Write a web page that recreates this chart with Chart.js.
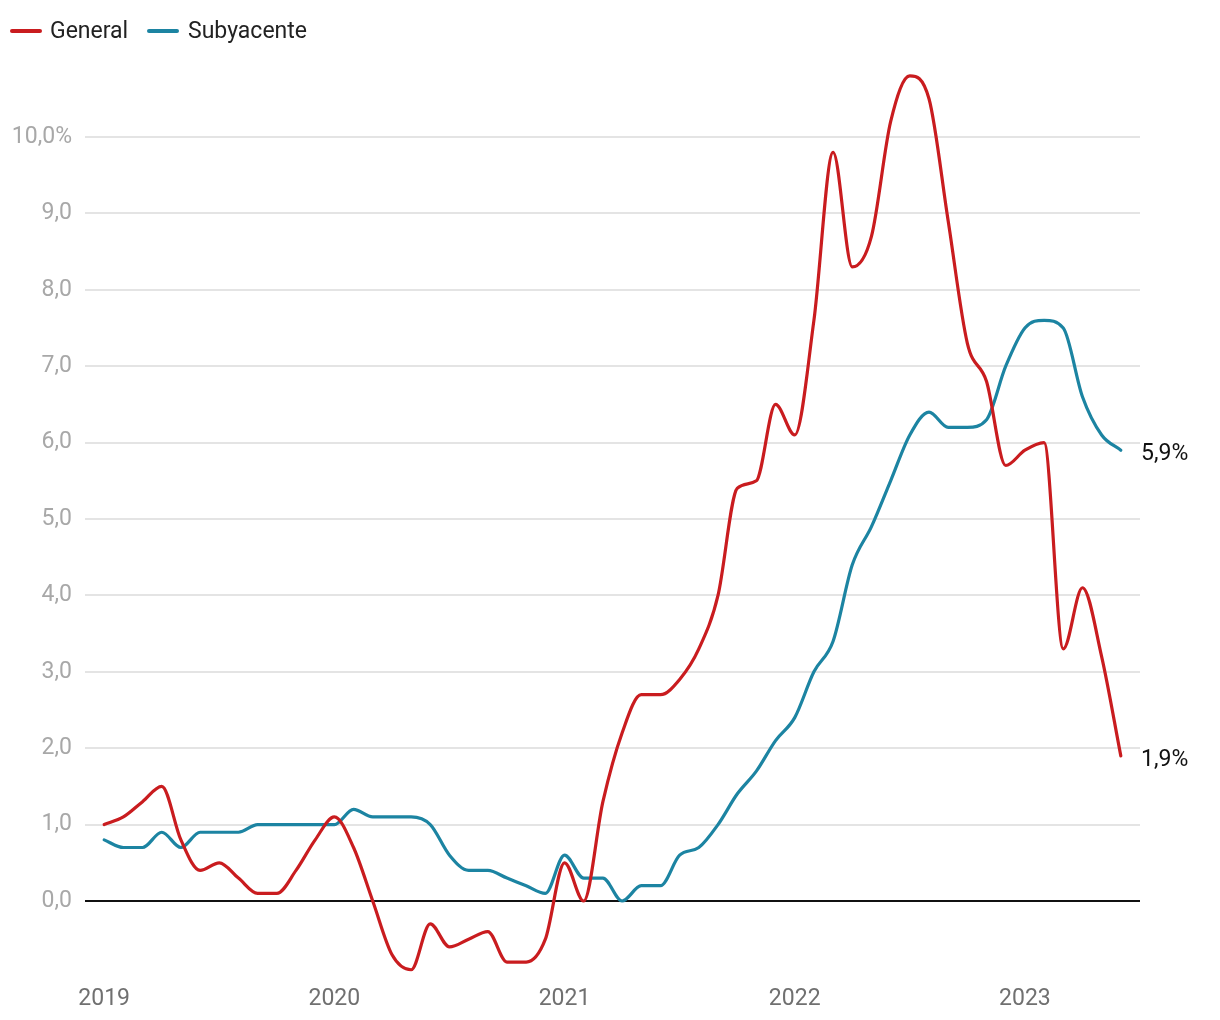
<!DOCTYPE html>
<html><head><meta charset="utf-8">
<script src="https://cdn.jsdelivr.net/npm/chart.js@4"></script>
<style>html,body{margin:0;padding:0;background:#fff}#wrap{width:1220px;height:1020px;position:relative}</style>
</head><body><div id="wrap"><canvas id="c" width="1220" height="1020"></canvas></div>
<script>
const seriesNames = ["General", "Subyacente"];
const general = [1.0,1.1,1.3,1.5,0.8,0.4,0.5,0.3,0.1,0.1,0.4,0.8,
  1.1,0.7,0.0,-0.7,-0.9,-0.3,-0.6,-0.5,-0.4,-0.8,-0.8,-0.5,
  0.5,0.0,1.3,2.2,2.7,2.7,2.9,3.3,4.0,5.4,5.5,6.5,
  6.1,7.6,9.8,8.3,8.7,10.2,10.8,10.5,8.9,7.3,6.8,5.7,
  5.9,6.0,3.3,4.1,3.2,1.9];
const subyacente = [0.8,0.7,0.7,0.9,0.7,0.9,0.9,0.9,1.0,1.0,1.0,1.0,
  1.0,1.2,1.1,1.1,1.1,1.0,0.6,0.4,0.4,0.3,0.2,0.1,
  0.6,0.3,0.3,0.0,0.2,0.2,0.6,0.7,1.0,1.4,1.7,2.1,
  2.4,3.0,3.4,4.4,4.9,5.5,6.1,6.4,6.2,6.2,6.3,7.0,
  7.5,7.6,7.5,6.6,6.1,5.9];
const yearLabels = ["2019","2020","2021","2022","2023"];
const endLabels = ["1,9%","5,9%"];
const colors = ["#c91c1f","#1c84a2"];
const FONT = 'Roboto';
const FS = 23;

const toXY = arr => arr.map((v,i)=>({x:i,y:v}));

const extrasPlugin = {
  id:'extras',
  afterDatasetsDraw(chart){
    const ctx = chart.ctx;
    ctx.save();
    ctx.font = FS + 'px ' + FONT;
    ctx.fillStyle = '#111';
    ctx.textBaseline = 'middle';
    ctx.textAlign = 'left';
    [0,1].forEach(di=>{
      const meta = chart.getDatasetMeta(di);
      const pt = meta.data[meta.data.length-1];
      ctx.fillText(endLabels[di], 1141, pt.y + 4);
    });
    // legend
    const items = [{x:12, tx:50}, {x:149, tx:188}];
    items.forEach((it,i)=>{
      ctx.strokeStyle = colors[i];
      ctx.lineWidth = 4;
      ctx.lineCap = 'round';
      ctx.beginPath(); ctx.moveTo(it.x, 31); ctx.lineTo(it.x+28, 31); ctx.stroke();
      ctx.fillStyle = '#222';
      ctx.fillText(seriesNames[i], it.tx, 32);
    });
    ctx.restore();
  }
};

new Chart(document.getElementById('c'), {
  type:'line',
  data:{datasets:[
    {label:seriesNames[0], data:toXY(general), borderColor:colors[0], backgroundColor:colors[0], borderWidth:3.2, pointRadius:0, cubicInterpolationMode:'monotone', borderCapStyle:'round'},
    {label:seriesNames[1], data:toXY(subyacente), borderColor:colors[1], backgroundColor:colors[1], borderWidth:3.2, pointRadius:0, cubicInterpolationMode:'monotone', borderCapStyle:'round'}
  ]},
  options:{
    responsive:false, animation:false,
    layout:{padding:{left:0,right:80,top:60.6,bottom:0}},
    plugins:{ legend:{display:false}, tooltip:{enabled:false} },
    scales:{
      x:{type:'linear', min:-1, max:54,
        grid:{display:false}, border:{display:false},
        afterBuildTicks(s){ s.ticks = [0,12,24,36,48].map(v=>({value:v})); },
        afterFit(s){ s.height = 42.6; },
        ticks:{color:'#707070', font:{family:FONT, size:FS}, padding:0, maxRotation:0,
          callback:(v)=> yearLabels[v/12] }
      },
      y:{min:-1, max:11,
        border:{display:false},
        afterBuildTicks(s){ s.ticks = [-1,0,1,2,3,4,5,6,7,8,9,10,11].map(v=>({value:v})); },
        afterFit(s){ s.width = 85; },
        grid:{ drawTicks:false, lineWidth:2,
          color:(c)=>{ const v=c.tick.value; if(v===0) return '#111'; if(v<0||v>10) return 'rgba(0,0,0,0)'; return '#e4e4e4'; } },
        ticks:{color:'#a8a8a8', font:{family:FONT, size:FS}, padding:13,
          callback:(v)=>{ if(v<0||v>10) return ''; const s=v.toFixed(1).replace('.',','); return v===10? s+'%' : s; } }
      }
    }
  },
  plugins:[extrasPlugin]
});
</script></body></html>
